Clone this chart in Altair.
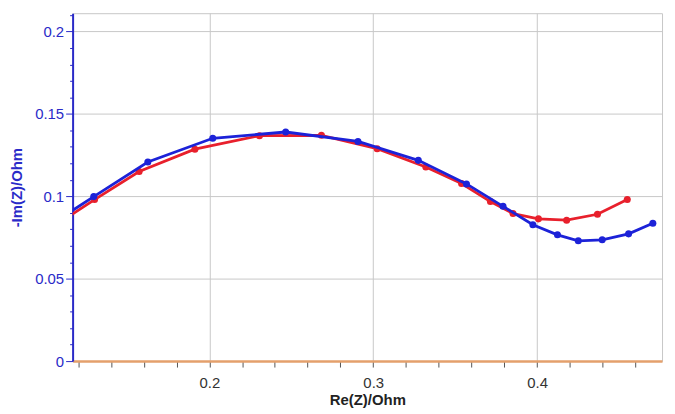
import altair as alt
import pandas as pd

# Blue series (first point lies just left of the visible range and is clipped)
blue_x = [0.105, 0.1295, 0.1625, 0.2021, 0.2466, 0.2907, 0.3275, 0.3569, 0.3792,
          0.3974, 0.4124, 0.4251, 0.4397, 0.4558, 0.4706]
blue_y = [0.0840, 0.0998, 0.1208, 0.1352, 0.1390, 0.1333, 0.1218, 0.1075, 0.0939,
          0.0827, 0.0766, 0.0730, 0.0736, 0.0772, 0.0836]

# Red series
red_x = [0.105, 0.1300, 0.1572, 0.1912, 0.2306, 0.2684, 0.3024, 0.3321, 0.3539,
         0.3715, 0.3853, 0.4008, 0.4180, 0.4368, 0.4550]
red_y = [0.0818, 0.0980, 0.1150, 0.1286, 0.1368, 0.1370, 0.1289, 0.1178, 0.1077,
         0.0968, 0.0895, 0.0863, 0.0855, 0.0891, 0.0980]

# Axis tick positions (major + minor)
x_ticks = [0.12, 0.14, 0.16, 0.18, 0.20, 0.22, 0.24, 0.26, 0.28, 0.30, 0.32, 0.34,
           0.36, 0.38, 0.40, 0.42, 0.44, 0.46]
y_ticks = [0.00, 0.01, 0.02, 0.03, 0.04, 0.05, 0.06, 0.07, 0.08, 0.09, 0.10, 0.11,
           0.12, 0.13, 0.14, 0.15, 0.16, 0.17, 0.18, 0.19, 0.20, 0.21]

x_domain = [0.1166, 0.4762]
y_domain = [0.0, 0.2111]

BLUE = "#1c22d8"
RED = "#e8202c"
AXIS_BLUE = "#2a2ac8"

df_blue = pd.DataFrame({"x": blue_x, "y": blue_y, "i": range(len(blue_x))})
df_red = pd.DataFrame({"x": red_x, "y": red_y, "i": range(len(red_x))})

x_major = "abs(datum.value*10 - round(datum.value*10)) < 1e-6"
y_major = "abs(datum.value*20 - round(datum.value*20)) < 1e-6"

x_axis = alt.Axis(
    values=x_ticks,
    title="Re(Z)/Ohm",
    labelExpr=f"{x_major} ? format(datum.value, '.1f') : ''",
    labelOverlap=False,
    labelFont="Liberation Sans",
    labelFontSize=15,
    labelColor="#333333",
    labelPadding=9,
    titleFont="Liberation Sans",
    titleFontSize=15,
    titleFontWeight="bold",
    titleColor="#222222",
    titlePadding=2,
    domainColor="#e4a06c",
    domainWidth=2.5,
    tickColor="#555555",
    tickSize=6,
    grid=True,
    gridColor="#c8c8c8",
    gridWidth=1,
    gridOpacity={"condition": {"test": x_major, "value": 1}, "value": 0},
)

y_axis = alt.Axis(
    values=y_ticks,
    title="-Im(Z)/Ohm",
    labelExpr=f"{y_major} ? format(datum.value, '~g') : ''",
    labelOverlap=False,
    labelFont="Liberation Sans",
    labelFontSize=15,
    labelColor=AXIS_BLUE,
    labelPadding=2,
    titleFont="Liberation Sans",
    titleFontSize=15,
    titleFontWeight="bold",
    titleColor=AXIS_BLUE,
    titlePadding=10,
    domainColor=AXIS_BLUE,
    domainWidth=2,
    tickColor=AXIS_BLUE,
    tickSize={"condition": {"test": y_major, "value": 7}, "value": 3},
    grid=True,
    gridColor="#c8c8c8",
    gridWidth=1,
    gridOpacity={"condition": {"test": y_major + " && datum.value > 0", "value": 1}, "value": 0},
)

xenc = alt.X("x:Q", scale=alt.Scale(domain=x_domain, nice=False, zero=False), axis=x_axis)
yenc = alt.Y("y:Q", scale=alt.Scale(domain=y_domain, nice=False), axis=y_axis)


def series(df, color):
    line = alt.Chart(df).mark_line(color=color, strokeWidth=2.8, clip=True).encode(
        x=xenc, y=yenc, order="i:Q"
    )
    pts = alt.Chart(df).mark_point(
        color=color, filled=True, size=50, opacity=1, clip=True
    ).encode(x=xenc, y=yenc)
    return line + pts


chart = alt.layer(series(df_red, RED), series(df_blue, BLUE)).properties(
    width=593,
    height=350,
    autosize=alt.AutoSizeParams(type="none"),
    padding={"left": 65, "top": 4, "right": 5, "bottom": 52},
    background="white",
).configure_view(stroke="#c8c8c8", strokeWidth=1)

chart.save("out.html", embed_options={"renderer": "svg", "actions": False})
